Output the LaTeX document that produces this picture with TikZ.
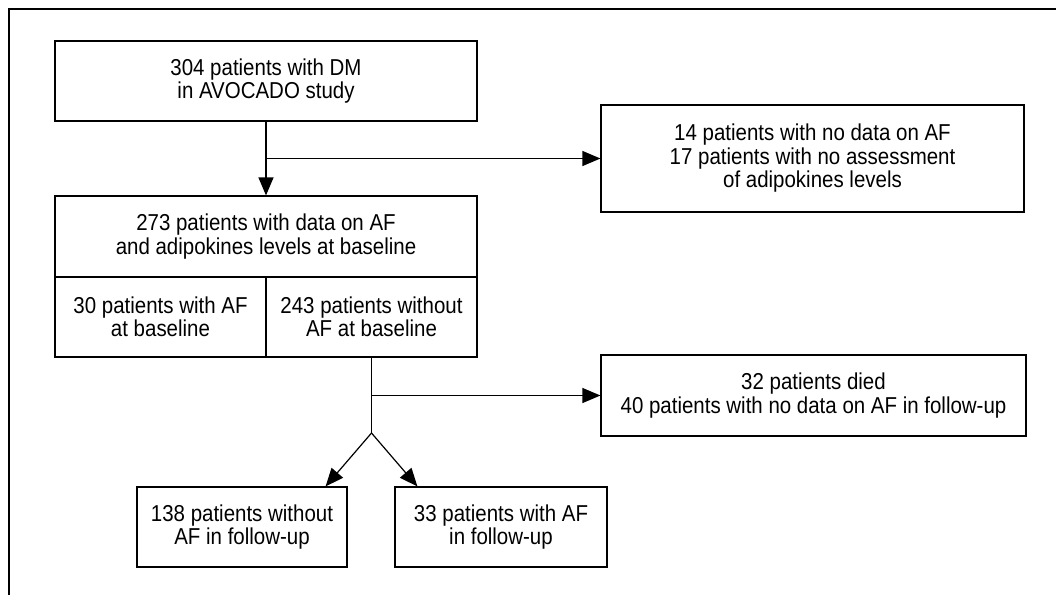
\documentclass[tikz,border=0pt]{standalone}
\usepackage{fontspec}
\setmainfont{Liberation Sans}[FakeStretch=0.89]
\usetikzlibrary{arrows.meta}

\begin{document}
\begin{tikzpicture}[x=1pt,y=-1pt,
    box/.style={draw,line width=1.2pt,align=center,inner sep=0pt,
      font=\fontsize{23}{23.5}\selectfont},
    arr/.style={line width=1.2pt,-{Triangle[length=18pt,width=15pt]}},
    link/.style={line width=1.2pt}]

    \useasboundingbox (0,0) rectangle (1056,595);

    % outer frame
    \draw[line width=1.4pt] (1056,9) -- (9,9) -- (9,595);

    % study boxes
    \node[box,minimum width=422pt,minimum height=80pt] (dm) at (266,81) {304 patients with DM\\in AVOCADO study};
    \node[box,minimum width=422pt,minimum height=81pt] (data) at (266,236.5) {273 patients with data on AF\\and adipokines levels at baseline};
    \node[box,minimum width=211pt,minimum height=80pt] (withaf) at (160.5,317) {30 patients with AF\\at baseline};
    \node[box,minimum width=211pt,minimum height=80pt] (noaf) at (371.5,317) {243 patients without\\AF at baseline};

    % excluded boxes
    \node[box,minimum width=423pt,minimum height=107pt] (excl) at (812.5,158.5) {14 patients with no data on AF\\17 patients with no assessment\\of adipokines levels};
    \node[box,minimum width=425pt,minimum height=81pt] (lost) at (813.5,395.5) {32 patients died\\40 patients with no data on AF in follow-up};

    % follow-up boxes
    \node[box,minimum width=210pt,minimum height=80pt] (fnoaf) at (242,527) {138 patients without\\AF in follow-up};
    \node[box,minimum width=212pt,minimum height=80pt] (faf) at (501,527) {33 patients with AF\\in follow-up};

    % arrows
    \draw[arr] (dm) -- (data);
    \draw[arr] (dm.south |- excl.west) -- (excl.west);

    \coordinate (fork) at (371.5,433);
    \draw[link] (noaf.south) -- (fork);
    \draw[arr] (noaf.south |- lost.west) -- (lost.west);
    \draw[arr] (fork) -- ([xshift=-22pt]fnoaf.north east);
    \draw[arr] (fork) -- ([xshift=23pt]faf.north west);
\end{tikzpicture}
\end{document}
